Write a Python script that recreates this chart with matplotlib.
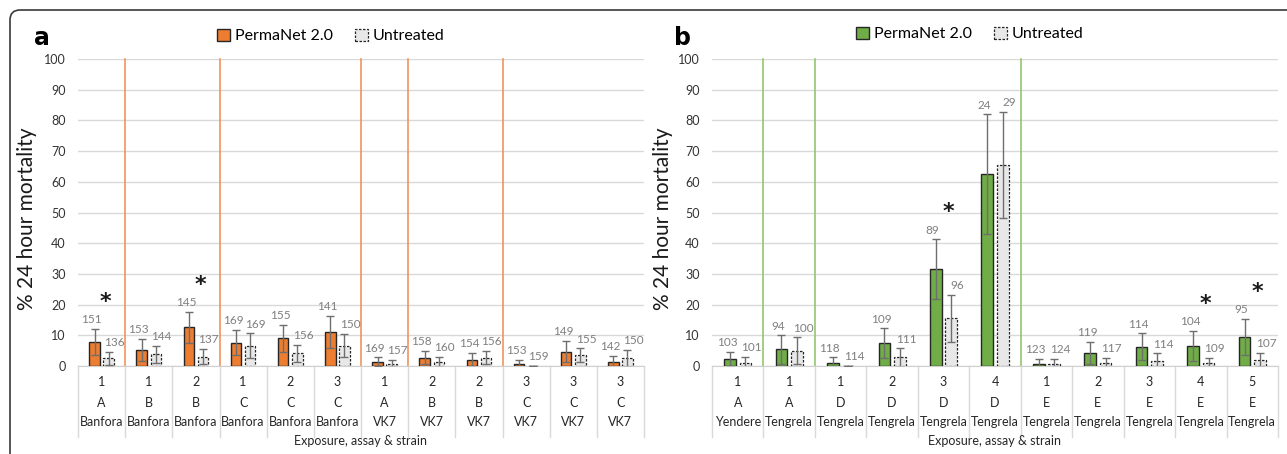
import matplotlib
matplotlib.use("Agg")
import matplotlib.pyplot as plt
import matplotlib.patches as mpatches
from matplotlib.transforms import blended_transform_factory, IdentityTransform
import numpy as np

# ---------------- data ----------------
exposure_a = ['1', '1', '2', '1', '2', '3', '1', '2', '2', '3', '3', '3']
assay_a = ['A', 'B', 'B', 'C', 'C', 'C', 'A', 'B', 'B', 'C', 'C', 'C']
strain_a = ['Banfora'] * 6 + ['VK7'] * 6
perma_a = [7.9, 5.2, 12.6, 7.6, 9.0, 11.2, 1.4, 2.7, 2.0, 0.6, 4.7, 1.4]
perma_a_err = [4.3, 3.6, 5.1, 4.1, 4.5, 5.2, 1.4, 2.2, 2.3, 1.4, 3.5, 1.9]
untr_a = [2.5, 3.8, 3.0, 6.6, 4.1, 6.6, 0.8, 1.4, 2.7, 0.0, 3.6, 2.5]
untr_a_err = [2.1, 2.7, 2.5, 4.0, 2.8, 3.8, 1.2, 1.6, 2.2, 0.0, 2.2, 2.7]
n_perma_a = [151, 153, 145, 169, 155, 141, 169, 158, 154, 153, 149, 142]
n_untr_a = [136, 144, 137, 169, 156, 150, 157, 160, 156, 159, 155, 150]
star_a = [0, 2]

exposure_b = ['1', '1', '1', '2', '3', '4', '1', '2', '3', '4', '5']
assay_b = ['A', 'A', 'D', 'D', 'D', 'D', 'E', 'E', 'E', 'E', 'E']
strain_b = ['Yendere'] + ['Tengrela'] * 10
perma_b = [2.2, 5.4, 1.1, 7.4, 31.6, 62.5, 0.7, 4.3, 6.3, 6.6, 9.5]
perma_b_err = [2.5, 4.6, 1.7, 4.9, 9.7, 19.5, 1.6, 3.6, 4.3, 4.9, 5.9]
untr_b = [1.1, 5.0, 0.0, 2.8, 15.5, 65.5, 0.7, 1.1, 1.7, 1.1, 2.0]
untr_b_err = [1.9, 4.3, 0.0, 3.0, 7.6, 17.3, 1.6, 1.6, 2.4, 1.6, 2.3]
n_perma_b = [103, 94, 118, 109, 89, 24, 123, 119, 114, 104, 95]
n_untr_b = [101, 100, 114, 111, 96, 29, 124, 117, 114, 109, 107]
star_b = [4, 9, 10]

yticks = [0, 10, 20, 30, 40, 50, 60, 70, 80, 90, 100]
series_names = ['PermaNet 2.0', 'Untreated']
xlabel = 'Exposure, assay & strain'
ylabel = '% 24 hour mortality'

plt.rcParams['font.family'] = ['Lato', 'DejaVu Sans']

W, H = 1287, 454
fig = plt.figure(figsize=(W / 100, H / 100), dpi=100)

# outer rounded frame (only top/left visible)
frame = mpatches.FancyBboxPatch((10, -40), 1400, H - 10 + 40,
                                boxstyle="round,pad=0,rounding_size=10",
                                transform=IdentityTransform(), fill=False,
                                edgecolor='#3a3a3a', linewidth=1.2)
fig.patches.append(frame)


def px2fx(x):
    return x / W


def py2fy(y):
    return 1 - y / H


def panel(left_px, right_px, exposure, assay, strain, perma, perma_err,
          untr, untr_err, n_p, n_u, stars, color, sepcolor, letter,
          letter_px, legend_center, ylab_x):
    top_px, bot_px = 59, 366
    ax = fig.add_axes([px2fx(left_px), py2fy(bot_px),
                       px2fx(right_px - left_px), (bot_px - top_px) / H])
    n = len(perma)
    x = np.arange(n)
    off = 0.15
    bw = 0.225
    ax.set_xlim(-0.5, n - 0.5)
    ax.set_ylim(0, 100)
    ax.set_yticks(yticks)
    ax.tick_params(axis='y', length=0, labelsize=9, pad=9, colors='#333333')
    ax.set_xticks([])
    for s in ['top', 'right', 'left']:
        ax.spines[s].set_visible(False)
    ax.spines['bottom'].set_color('#d0d0d0')
    ax.grid(axis='y', color='#d9d9d9', linewidth=1)
    ax.set_axisbelow(True)

    ax.bar(x - off, perma, width=bw, color=color, edgecolor='#262626',
           linewidth=1.0, zorder=3, label=series_names[0])
    ax.bar(x + off, untr, width=bw, color='#e8e8e8', edgecolor='#262626',
           linewidth=0.9, linestyle=(0, (2, 1.2)), zorder=3,
           label=series_names[1])
    ax.errorbar(x - off, perma, yerr=perma_err, fmt='none', ecolor='#6e6e6e',
                elinewidth=1, capsize=3, capthick=1, zorder=4)
    ax.errorbar(x + off, untr, yerr=untr_err, fmt='none', ecolor='#6e6e6e',
                elinewidth=1, capsize=3, capthick=1, zorder=4)

    for i in range(n):
        ax.text(x[i] - off - 0.06, perma[i] + perma_err[i] + 1.2, str(n_p[i]),
                ha='center', va='bottom', fontsize=8.5, color='#7f7f7f', zorder=5)
        ax.text(x[i] + off + 0.12, untr[i] + untr_err[i] + 1.2, str(n_u[i]),
                ha='center', va='bottom', fontsize=8.5, color='#7f7f7f', zorder=5)
    for i in stars:
        ytop = max(perma[i] + perma_err[i], untr[i] + untr_err[i])
        ax.text(x[i] + off * 0.6, ytop + 5.5, '*', ha='center', va='bottom',
                fontsize=16, fontweight='bold', color='#1a1a1a',
                family='DejaVu Sans')

    # group separators
    for i in range(1, n):
        if (assay[i], strain[i]) != (assay[i - 1], strain[i - 1]):
            ax.plot([i - 0.5, i - 0.5], [0, 100], color=sepcolor, lw=1.2,
                    zorder=2, clip_on=False)

    # category table
    tr = blended_transform_factory(ax.transData, fig.transFigure)
    for i in range(n + 1):
        ax.plot([i - 0.5, i - 0.5], [py2fy(366), py2fy(437)], transform=tr,
                color='#d9d9d9', lw=1, clip_on=False)
    for i in range(n):
        ax.text(x[i], py2fy(382), exposure[i], transform=tr, ha='center',
                va='center', fontsize=9, color='#262626')
        ax.text(x[i], py2fy(403), assay[i], transform=tr, ha='center',
                va='center', fontsize=9, color='#262626')
        ax.text(x[i], py2fy(422), strain[i], transform=tr, ha='center',
                va='center', fontsize=9, color='#262626')
    fig.text(px2fx((left_px + right_px) / 2), py2fy(441), xlabel, ha='center',
             va='center', fontsize=9, color='#262626')

    ax.set_ylabel(ylabel, fontsize=15, color='#1a1a1a')
    ax.yaxis.set_label_coords((ylab_x - left_px) / (right_px - left_px), 0.48)

    fig.text(px2fx(letter_px[0]), py2fy(letter_px[1]), letter, fontsize=17,
             fontweight='bold', family='DejaVu Sans', ha='center', va='center')

    h1 = mpatches.Patch(facecolor=color, edgecolor='#262626', linewidth=1.0,
                        label=series_names[0])
    h2 = mpatches.Patch(facecolor='#e8e8e8', edgecolor='#262626', linewidth=0.9,
                        linestyle=(0, (2, 1.2)), label=series_names[1])
    fig.legend(handles=[h1, h2], loc='center',
               bbox_to_anchor=(px2fx(legend_center[0]), py2fy(legend_center[1])),
               ncol=2, frameon=False, fontsize=11.5, handlelength=0.8,
               handleheight=0.8, handletextpad=0.3, columnspacing=1.4)
    return ax


panel(78, 644, exposure_a, assay_a, strain_a, perma_a, perma_a_err, untr_a,
      untr_a_err, n_perma_a, n_untr_a, star_a, '#ED7D31', '#F0935A', 'a',
      (42, 38), (331, 36), 37)
panel(712, 1278, exposure_b, assay_b, strain_b, perma_b, perma_b_err, untr_b,
      untr_b_err, n_perma_b, n_untr_b, star_b, '#70AD47', '#93C66E', 'b',
      (682, 38), (970, 34), 673)

fig.savefig('out.png', dpi=100)
